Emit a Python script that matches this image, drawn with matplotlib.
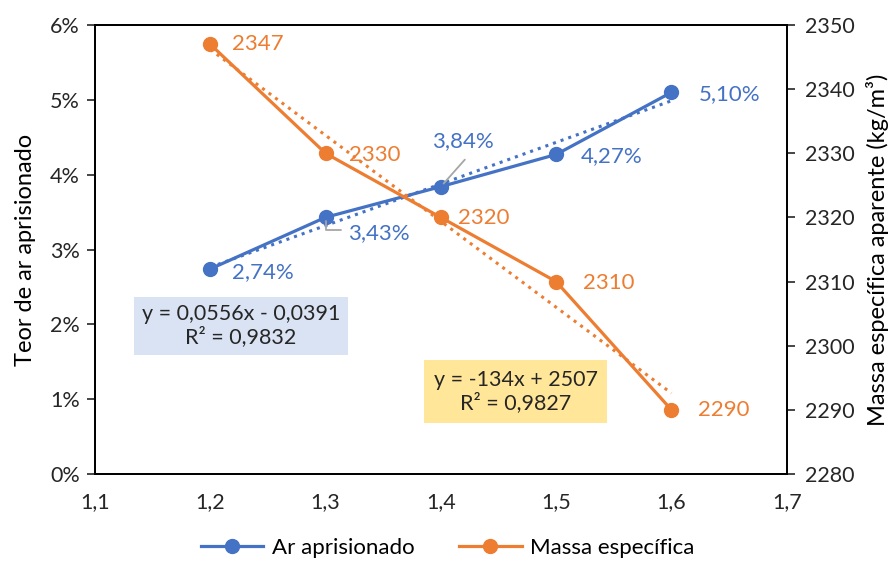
import numpy as np
import matplotlib.pyplot as plt
from matplotlib.ticker import FuncFormatter

plt.rcParams['font.family'] = ['Lato', 'DejaVu Sans']

# fator x (relação) e resultados dos ensaios
fator = [1.2, 1.3, 1.4, 1.5, 1.6]
ar_aprisionado = [2.74, 3.43, 3.84, 4.27, 5.10]      # %
massa_especifica = [2347, 2330, 2320, 2310, 2290]   # kg/m3

ar_labels = ['2,74%', '3,43%', '3,84%', '4,27%', '5,10%']
massa_labels = ['2347', '2330', '2320', '2310', '2290']

azul = '#4472C4'
laranja = '#ED7D31'
texto = '#262626'

fig = plt.figure(figsize=(8.96, 5.69), dpi=100)
ax = fig.add_axes([0.106, 0.167, 0.772, 0.789])
ax2 = ax.twinx()

x = np.array(fator)
ar = np.array(ar_aprisionado) / 100
ms = np.array(massa_especifica)

# linhas de tendência (regressão linear)
p_ar = np.polyfit(x, ar, 1)
p_ms = np.polyfit(x, ms, 1)
ax.plot(x, np.polyval(p_ar, x), ':', color=azul, lw=2.2, zorder=2)
ax2.plot(x, np.polyval(p_ms, x), ':', color=laranja, lw=2.2, zorder=2)

l1, = ax.plot(x, ar, '-o', color=azul, lw=2.3, ms=10, zorder=3, label='Ar aprisionado')
l2, = ax2.plot(x, ms, '-o', color=laranja, lw=2.3, ms=10, zorder=3, label='Massa específica')

ax.set_xlim(1.1, 1.7)
ax.set_ylim(0, 0.06)
ax2.set_ylim(2280, 2350)
ax.set_xticks(np.arange(1.1, 1.71, 0.1))
ax.set_yticks(np.arange(0, 0.061, 0.01))
ax2.set_yticks(np.arange(2280, 2351, 10))
ax.xaxis.set_major_formatter(FuncFormatter(lambda v, p: f'{v:.1f}'.replace('.', ',')))
ax.yaxis.set_major_formatter(FuncFormatter(lambda v, p: f'{v*100:.0f}%'))

ax.tick_params(axis='x', length=0, pad=13, labelsize=15.5, colors=texto)
ax.tick_params(axis='y', length=6, width=1.2, labelsize=15.5, colors=texto, pad=5)
ax2.tick_params(axis='y', length=6, width=1.2, labelsize=15.5, colors=texto, pad=7)
for a in (ax, ax2):
    for s in a.spines.values():
        s.set_linewidth(1.3)
        s.set_color('black')

ax.set_ylabel('Teor de ar aprisionado', fontsize=17, color='black', labelpad=10)
ax2.set_ylabel('Massa específica aparente (kg/m³)', fontsize=17, color='black', labelpad=8)

# rótulos de dados (deslocamento em pixels)
ar_offsets = [(22, -3), (22, -16), (-9, 46), (25, -2), (27, -2)]
for xi, yi, lab, off in zip(x, ar, ar_labels, ar_offsets):
    ax.annotate(lab, (xi, yi), xytext=off, textcoords='offset pixels',
                ha='left', va='center', fontsize=16, color=azul, zorder=5)

# linhas de chamada
ax.annotate('', (1.3, ar[1]), xytext=(15, -13), textcoords='offset pixels',
            arrowprops=dict(arrowstyle='-', color='#A6A6A6', lw=1.3,
                            connectionstyle='angle,angleA=0,angleB=90,rad=0',
                            shrinkA=0, shrinkB=3))
ax.annotate('', (1.4, ar[2]), xytext=(24, 27), textcoords='offset pixels',
            arrowprops=dict(arrowstyle='-', color='#A6A6A6', lw=1.3,
                            shrinkA=0, shrinkB=3))

ms_offsets = [(22, 0), (23, -2), (17, -1), (27, -1), (27, 0)]
for xi, yi, lab, off in zip(x, ms, massa_labels, ms_offsets):
    ax2.annotate(lab, (xi, yi), xytext=off, textcoords='offset pixels',
                 ha='left', va='center', fontsize=16, color=laranja, zorder=5)

# equações das linhas de tendência
ax.text(0.211, 0.33, 'y = 0,0556x - 0,0391\nR² = 0,9832', transform=ax.transAxes,
        ha='center', va='center', fontsize=15.5, color=texto, linespacing=1.15,
        bbox=dict(boxstyle='square,pad=0.35', fc='#DAE3F3', ec='none'), zorder=6)
ax.text(0.608, 0.183, 'y = -134x + 2507\nR² = 0,9827', transform=ax.transAxes,
        ha='center', va='center', fontsize=15.5, color=texto, linespacing=1.15,
        bbox=dict(boxstyle='square,pad=0.45', fc='#FFE699', ec='none'), zorder=6)
ax2.set_zorder(ax.get_zorder() + 1)
ax2.patch.set_visible(False)

fig.legend(handles=[l1, l2], loc='lower center', ncol=2, frameon=False,
           fontsize=16, bbox_to_anchor=(0.5, -0.015), handlelength=2.8,
           columnspacing=2.0, handletextpad=0.4)

fig.savefig('out.png', dpi=100)
